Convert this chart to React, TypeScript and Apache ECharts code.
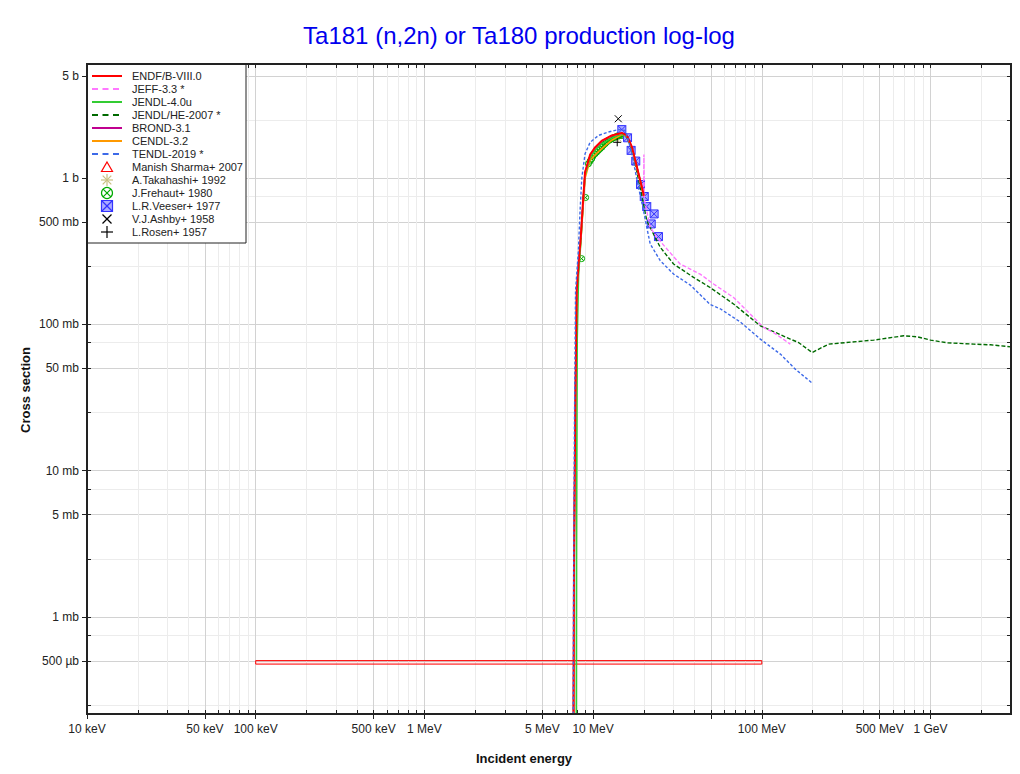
import React, { useEffect, useRef } from "react";
import * as echarts from "echarts";

type Pt = [number, number];

const TITLE = "Ta181 (n,2n) or Ta180 production log-log";
const X_TITLE = "Incident energy";
const Y_TITLE = "Cross section";

// axis ranges (eV, barn)
const E_MIN = 1e4;
const E_MAX = 3e9;
const S_MIN = 2.17e-4;
const S_MAX = 6.04;

// x ticks (eV)
const xMajorTicks = [1e4, 5e4, 1e5, 5e5, 1e6, 5e6, 1e7, 5e7, 1e8, 5e8, 1e9];
const xLabelTicks = [1e4, 5e4, 1e5, 5e5, 1e6, 5e6, 1e7, 1e8, 5e8, 1e9];
const xTickLabels = ["10 keV", "50 keV", "100 keV", "500 keV", "1 MeV", "5 MeV", "10 MeV", "100 MeV", "500 MeV", "1 GeV"];
const xDecades = [1e4, 1e5, 1e6, 1e7, 1e8, 1e9];
const xMinorMultipliers = [2, 3, 4, 6, 7, 8, 9];

// y ticks (barn)
const yMajorTicks = [5, 1, 0.5, 0.1, 0.05, 0.01, 0.005, 0.001, 0.0005];
const yTickLabels = ["5 b", "1 b", "500 mb", "100 mb", "50 mb", "10 mb", "5 mb", "1 mb", "500 µb"];
const yMinorTicks = [2.5, 0.75, 0.25, 0.075, 0.025, 0.0075, 0.0025, 0.00075, 0.00025];

// evaluated data [E (eV), sigma (b)]
const endfB8: Pt[] = [
  [7.6e6, 1e-5], [7.7e6, 2e-3], [7.85e6, 0.03], [8.0e6, 0.17], [8.2e6, 0.26], [8.45e6, 0.394],
  [8.72e6, 0.7], [8.96e6, 1.1], [9.6e6, 1.45], [10.3e6, 1.63], [11.3e6, 1.81], [12.9e6, 1.96],
  [14.8e6, 2.04], [15.85e6, 1.96], [17.0e6, 1.63], [18.2e6, 1.19], [19.45e6, 0.87], [20.0e6, 0.76],
];
const jeff33: Pt[] = [
  [7.6e6, 1e-5], [7.7e6, 2.1e-3], [7.85e6, 0.031], [8.0e6, 0.17], [8.2e6, 0.26], [8.45e6, 0.39],
  [8.72e6, 0.69], [8.96e6, 1.09], [9.6e6, 1.44], [10.3e6, 1.62], [11.3e6, 1.8], [12.9e6, 1.95],
  [14.8e6, 2.03], [15.85e6, 1.95], [17.0e6, 1.62], [18.2e6, 1.18], [19.45e6, 0.86], [19.95e6, 0.77],
  [20.0e6, 1.45], [20.1e6, 0.72], [21.8e6, 0.462], [23.9e6, 0.394], [27.4e6, 0.328], [32.8e6, 0.259],
  [43.1e6, 0.221], [51.8e6, 0.189], [68e6, 0.153], [102.5e6, 0.0954], [117.5e6, 0.088], [147.6e6, 0.0734],
];
const jendl40u: Pt[] = [
  [7.93e6, 1e-5], [7.97e6, 3e-3], [8.05e6, 0.08], [8.2e6, 0.22], [8.45e6, 0.36], [8.72e6, 0.66],
  [8.96e6, 1.05], [9.6e6, 1.38], [10.3e6, 1.56], [11.3e6, 1.73], [12.9e6, 1.88], [14.0e6, 1.97],
  [14.8e6, 2.0], [15.85e6, 1.93], [17.0e6, 1.6], [18.2e6, 1.18], [19.45e6, 0.86], [20.0e6, 0.76],
];
const jendlHe2007: Pt[] = [
  [7.6e6, 1e-5], [7.7e6, 2e-3], [7.85e6, 0.03], [8.0e6, 0.17], [8.2e6, 0.26], [8.45e6, 0.4],
  [8.72e6, 0.7], [8.96e6, 1.1], [9.6e6, 1.42], [10.3e6, 1.6], [11.3e6, 1.78], [12.9e6, 1.93],
  [14.5e6, 2.02], [15.5e6, 1.97], [16.5e6, 1.72], [17.5e6, 1.35], [18.5e6, 1.0], [19.5e6, 0.75],
  [20.8e6, 0.513], [22.8e6, 0.416], [25e6, 0.337], [30e6, 0.259], [39.4e6, 0.21], [49.4e6, 0.179],
  [68e6, 0.138], [98e6, 0.098], [147.6e6, 0.0794], [165e6, 0.0753], [198.6e6, 0.0643], [249e6, 0.0734],
  [292e6, 0.0746], [461e6, 0.0782], [695e6, 0.0837], [834e6, 0.0824], [1000e6, 0.0782], [1257e6, 0.0749],
  [1807e6, 0.0734], [2270e6, 0.0726], [2985e6, 0.0703],
];
const brond31: Pt[] = [
  [7.6e6, 1e-5], [7.7e6, 2.2e-3], [7.85e6, 0.032], [8.0e6, 0.17], [8.45e6, 0.39], [8.96e6, 1.08],
  [9.6e6, 1.43], [10.3e6, 1.62], [11.3e6, 1.8], [12.9e6, 1.95], [14.8e6, 2.03], [15.85e6, 1.95],
  [17.0e6, 1.62], [18.2e6, 1.18], [19.45e6, 0.86], [20.0e6, 0.75],
];
const cendl32: Pt[] = [
  [7.6e6, 1e-5], [7.7e6, 1.8e-3], [7.85e6, 0.028], [8.0e6, 0.16], [8.45e6, 0.37], [8.96e6, 1.0],
  [9.6e6, 1.33], [10.3e6, 1.45], [11.3e6, 1.6], [12.9e6, 1.82], [14.8e6, 1.99], [15.85e6, 1.94],
  [17.0e6, 1.6], [18.2e6, 1.17], [19.45e6, 0.85], [20.0e6, 0.75],
];
const tendl2019: Pt[] = [
  [7.58e6, 1e-5], [7.65e6, 1e-3], [7.75e6, 0.02], [7.87e6, 0.17], [8.18e6, 0.32], [8.37e6, 0.6],
  [8.57e6, 1.0], [8.96e6, 1.47], [9.6e6, 1.76], [10.75e6, 1.96], [12.32e6, 2.07], [14.13e6, 2.15],
  [15.5e6, 2.12], [16.2e6, 1.81], [16.97e6, 1.47], [17.75e6, 1.13], [18.57e6, 0.868], [19.9e6, 0.6],
  [20.8e6, 0.462], [21.8e6, 0.355], [25e6, 0.273], [30e6, 0.221], [37.7e6, 0.186], [49.4e6, 0.137],
  [56.7e6, 0.128], [74.5e6, 0.104], [98e6, 0.0794], [128.8e6, 0.0627], [158e6, 0.0495], [196.8e6, 0.0401],
];

// experimental data
// Manish Sharma+ 2007: [E low, E high, sigma low, sigma high]
const manishSharma2007: [number, number, number, number][] = [[1e5, 1e8, 4.76e-4, 5.03e-4]];
const takahashi1992: Pt[] = [[14.1e6, 1.87]];
const frehaut1980: Pt[] = [
  [8.55e6, 0.282], [9.03e6, 0.738], [9.38e6, 1.255], [9.6e6, 1.31], [9.82e6, 1.36], [10.0e6, 1.42],
  [10.28e6, 1.47], [10.5e6, 1.51], [10.75e6, 1.55], [11.0e6, 1.59], [11.26e6, 1.63], [11.5e6, 1.68],
  [11.78e6, 1.72], [12.0e6, 1.76], [12.32e6, 1.81], [12.6e6, 1.83], [12.91e6, 1.86], [13.2e6, 1.89],
  [13.51e6, 1.91], [13.8e6, 1.93], [14.13e6, 1.96], [14.45e6, 1.97], [14.8e6, 1.96],
];
const veeser1977: Pt[] = [
  [14.8e6, 2.15], [16.0e6, 1.89], [16.8e6, 1.55], [17.9e6, 1.31], [19.1e6, 0.905], [20.1e6, 0.75],
  [20.8e6, 0.64], [23.0e6, 0.57], [22.1e6, 0.487], [24.4e6, 0.399],
];
const ashby1958: Pt[] = [[14.1e6, 2.55]];
const rosen1957: Pt[] = [[13.9e6, 1.76]];

const FONT = "'Liberation Sans', Arial, Helvetica, sans-serif";
const lg = Math.log10;
const toLog = (d: Pt[]) => d.map(([e, s]) => [lg(e), lg(s)]);

const SYM_CIRCLEX = "path://M0,-5A5,5,0,1,1,0,5A5,5,0,1,1,0,-5ZM-3.5,-3.5L3.5,3.5M3.5,-3.5L-3.5,3.5";
const SYM_SQUAREX = "path://M-5,-5L5,-5L5,5L-5,5ZM-5,-5L5,5M5,-5L-5,5";
const SYM_X = "path://M-5,-5L5,5M5,-5L-5,5";
const SYM_PLUS = "path://M0,-5L0,5M-5,0L5,0";
const SYM_AST = "path://M0,-5L0,5M-5,0L5,0M-3.5,-3.5L3.5,3.5M3.5,-3.5L-3.5,3.5";

const GRID = { left: 87, top: 64, right: 9, bottom: 60 };
const W = 1020;
const H = 774;

type LegendItem = { name: string; kind: string; color: string; dash?: boolean; width?: number };
const legendItems: LegendItem[] = [
  { name: "ENDF/B-VIII.0", kind: "line", color: "#ff0000", width: 2 },
  { name: "JEFF-3.3 *", kind: "line", color: "#ff77ff", dash: true, width: 2 },
  { name: "JENDL-4.0u", kind: "line", color: "#33cc33", width: 2 },
  { name: "JENDL/HE-2007 *", kind: "line", color: "#006a00", dash: true, width: 2 },
  { name: "BROND-3.1", kind: "line", color: "#c0008f", width: 2 },
  { name: "CENDL-3.2", kind: "line", color: "#ff9900", width: 2 },
  { name: "TENDL-2019 *", kind: "line", color: "#3d6ae8", dash: true, width: 2 },
  { name: "Manish Sharma+ 2007", kind: "triangle", color: "#ff0000" },
  { name: "A.Takahashi+ 1992", kind: "asterisk", color: "#c8c080" },
  { name: "J.Frehaut+ 1980", kind: "circlex", color: "#00aa00" },
  { name: "L.R.Veeser+ 1977", kind: "squarex", color: "#3333ff" },
  { name: "V.J.Ashby+ 1958", kind: "x", color: "#000000" },
  { name: "L.Rosen+ 1957", kind: "plus", color: "#000000" },
];

function legendGraphics(): any[] {
  const els: any[] = [];
  els.push({
    type: "rect",
    shape: { x: 87, y: 64, width: 159, height: 179 },
    style: { fill: "#ffffff", stroke: "#222222", lineWidth: 1 },
    z: 60,
  });
  const sx = 107;
  legendItems.forEach((it, i) => {
    const y = 76 + 13 * i;
    const st = { stroke: it.color, lineWidth: 1.2, fill: "none" };
    if (it.kind === "line") {
      els.push({
        type: "line",
        shape: { x1: 92, y1: y, x2: 122, y2: y },
        style: { stroke: it.color, lineWidth: it.width || 2, lineDash: it.dash ? [6, 4.5] : null },
        z: 61,
      });
    } else if (it.kind === "triangle") {
      els.push({ type: "polygon", shape: { points: [[sx, y - 5], [sx + 5.5, y + 4.5], [sx - 5.5, y + 4.5]] }, style: st, z: 61 });
    } else if (it.kind === "asterisk") {
      [[0, -6, 0, 6], [-6, 0, 6, 0], [-4.3, -4.3, 4.3, 4.3], [4.3, -4.3, -4.3, 4.3]].forEach((l) =>
        els.push({ type: "line", shape: { x1: sx + l[0], y1: y + l[1], x2: sx + l[2], y2: y + l[3] }, style: st, z: 61 })
      );
    } else if (it.kind === "circlex") {
      els.push({ type: "circle", shape: { cx: sx, cy: y, r: 5.5 }, style: st, z: 61 });
      [[-3.9, -3.9, 3.9, 3.9], [3.9, -3.9, -3.9, 3.9]].forEach((l) =>
        els.push({ type: "line", shape: { x1: sx + l[0], y1: y + l[1], x2: sx + l[2], y2: y + l[3] }, style: st, z: 61 })
      );
    } else if (it.kind === "squarex") {
      els.push({ type: "rect", shape: { x: sx - 5.5, y: y - 5.5, width: 11, height: 11 }, style: { ...st, fill: "#aaaaff" }, z: 61 });
      [[-5.5, -5.5, 5.5, 5.5], [5.5, -5.5, -5.5, 5.5]].forEach((l) =>
        els.push({ type: "line", shape: { x1: sx + l[0], y1: y + l[1], x2: sx + l[2], y2: y + l[3] }, style: st, z: 61 })
      );
    } else if (it.kind === "x") {
      [[-4.5, -4.5, 4.5, 4.5], [4.5, -4.5, -4.5, 4.5]].forEach((l) =>
        els.push({ type: "line", shape: { x1: sx + l[0], y1: y + l[1], x2: sx + l[2], y2: y + l[3] }, style: st, z: 61 })
      );
    } else if (it.kind === "plus") {
      [[0, -6, 0, 6], [-6, 0, 6, 0]].forEach((l) =>
        els.push({ type: "line", shape: { x1: sx + l[0], y1: y + l[1], x2: sx + l[2], y2: y + l[3] }, style: st, z: 61 })
      );
    }
    els.push({
      type: "text",
      x: 132,
      y,
      style: { text: it.name, fontSize: 11, fontFamily: FONT, fill: "#222222", textVerticalAlign: "middle", textAlign: "left" },
      z: 61,
    });
  });
  return els;
}

function buildOption(): any {
  const xMin = lg(E_MIN);
  const xMax = lg(E_MAX);
  const yMin = lg(S_MIN);
  const yMax = lg(S_MAX);

  const xMajorLog = xMajorTicks.map(lg);
  const xLabelLog = xLabelTicks.map(lg);
  const xMinorLog: number[] = [];
  xDecades.forEach((d) => xMinorMultipliers.forEach((m) => {
    const v = lg(d * m);
    if (v <= xMax + 1e-9) xMinorLog.push(v);
  }));
  const xAllLog = [...xMajorLog, ...xMinorLog];

  const yMajorLog = yMajorTicks.map(lg);
  const yMinorLog = yMinorTicks.map(lg).filter((v) => v >= yMin && v <= yMax);
  const yAllLog = [...yMajorLog, ...yMinorLog];

  const find = (arr: number[], labels: string[], v: number) => {
    const i = arr.findIndex((t) => Math.abs(t - v) < 1e-6);
    return i >= 0 ? labels[i] : "";
  };

  const baseX = { type: "value", min: xMin, max: xMax, gridIndex: 0, axisPointer: { show: false } };
  const baseY = { type: "value", min: yMin, max: yMax, gridIndex: 0, axisPointer: { show: false } };
  const tickStyle = { color: "#222222", width: 1 };
  const noLine = { show: false, onZero: false };

  const xAxis = [
    // 0: minor split lines
    {
      ...baseX, position: "bottom",
      axisLine: noLine,
      axisTick: { show: true, length: 0, customValues: xMinorLog, lineStyle: { color: "transparent" } },
      axisLabel: { show: false },
      splitLine: { show: true, lineStyle: { color: "#ececec", width: 1 } },
    },
    // 1: major (labels, outside ticks, darker split lines)
    {
      ...baseX, position: "bottom",
      axisLine: noLine,
      axisTick: { show: true, inside: false, length: 5, customValues: xMajorLog, lineStyle: tickStyle },
      axisLabel: {
        show: true, customValues: xLabelLog, margin: 9, fontSize: 12, fontFamily: FONT, color: "#222222",
        formatter: (v: number) => find(xLabelLog, xTickLabels, v),
      },
      splitLine: { show: true, lineStyle: { color: "#d2d2d2", width: 1 } },
    },
    // 2: inner ticks bottom
    {
      ...baseX, position: "bottom",
      axisLine: noLine,
      axisTick: { show: true, inside: true, length: 4, customValues: xAllLog, lineStyle: tickStyle },
      axisLabel: { show: false },
      splitLine: { show: false },
    },
    // 3: top ticks
    {
      ...baseX, position: "top",
      axisLine: noLine,
      axisTick: { show: true, inside: true, length: 4, customValues: xAllLog, lineStyle: tickStyle },
      axisLabel: { show: false },
      splitLine: { show: false },
    },
  ];

  const yAxis = [
    {
      ...baseY, position: "left",
      axisLine: noLine,
      axisTick: { show: true, length: 0, customValues: yMinorLog, lineStyle: { color: "transparent" } },
      axisLabel: { show: false },
      splitLine: { show: true, lineStyle: { color: "#ececec", width: 1 } },
    },
    {
      ...baseY, position: "left",
      axisLine: noLine,
      axisTick: { show: true, inside: false, length: 5, customValues: yMajorLog, lineStyle: tickStyle },
      axisLabel: {
        show: true, customValues: yMajorLog, margin: 8, fontSize: 12, fontFamily: FONT, color: "#222222",
        formatter: (v: number) => find(yMajorLog, yTickLabels, v),
      },
      splitLine: { show: true, lineStyle: { color: "#d2d2d2", width: 1 } },
    },
    {
      ...baseY, position: "left",
      axisLine: noLine,
      axisTick: { show: true, inside: true, length: 4, customValues: yAllLog, lineStyle: tickStyle },
      axisLabel: { show: false },
      splitLine: { show: false },
    },
    {
      ...baseY, position: "right",
      axisLine: noLine,
      axisTick: { show: true, inside: true, length: 4, customValues: yAllLog, lineStyle: tickStyle },
      axisLabel: { show: false },
      splitLine: { show: false },
    },
  ];

  const line = (name: string, data: Pt[], color: string, width: number, dash: number[] | null) => ({
    name, type: "line", xAxisIndex: 1, yAxisIndex: 1, data: toLog(data),
    symbol: "none", showSymbol: false, clip: true, silent: true,
    lineStyle: { color, width, type: dash ? dash : "solid" },
    itemStyle: { color },
    emphasis: { disabled: true },
  });

  const scatter = (name: string, data: Pt[], symbol: string, size: number, fill: string, stroke: string, bw: number) => ({
    name, type: "scatter", xAxisIndex: 1, yAxisIndex: 1, data: toLog(data),
    symbol, symbolSize: size, clip: true, silent: true,
    itemStyle: { color: fill, borderColor: stroke, borderWidth: bw, opacity: 1 },
    emphasis: { disabled: true },
  });

  const series: any[] = [
    {
      name: "Manish Sharma+ 2007",
      type: "custom",
      xAxisIndex: 1, yAxisIndex: 1,
      clip: true, silent: true,
      dimensions: ["e0", "e1", "s0", "s1"],
      encode: { x: [0, 1], y: [2, 3] },
      data: manishSharma2007.map((b) => [lg(b[0]), lg(b[1]), lg(b[2]), lg(b[3])]),
      renderItem: (_p: any, api: any) => {
        const a = api.coord([api.value(0), api.value(3)]);
        const b = api.coord([api.value(1), api.value(2)]);
        return {
          type: "rect",
          shape: { x: a[0], y: a[1], width: b[0] - a[0], height: b[1] - a[1] },
          style: { fill: "rgba(255,0,0,0.07)", stroke: "#ff0000", lineWidth: 1 },
        };
      },
    },
    line("JENDL/HE-2007 *", jendlHe2007, "#006a00", 1.4, [4, 2]),
    line("BROND-3.1", brond31, "#c0008f", 1.6, null),
    line("CENDL-3.2", cendl32, "#ff9900", 1.6, null),
    line("JENDL-4.0u", jendl40u, "#33cc33", 1.6, null),
    line("JEFF-3.3 *", jeff33, "#ff77ff", 1.4, [4, 2]),
    line("ENDF/B-VIII.0", endfB8, "#ff0000", 2, null),
    line("TENDL-2019 *", tendl2019, "#3d6ae8", 1.4, [3, 2]),
    scatter("A.Takahashi+ 1992", takahashi1992, SYM_AST, 9, "transparent", "#c8c080", 1),
    scatter("J.Frehaut+ 1980", frehaut1980, SYM_CIRCLEX, 6, "transparent", "#00aa00", 1),
    scatter("L.R.Veeser+ 1977", veeser1977, SYM_SQUAREX, 8, "#aaaaff", "#3333ff", 1),
    scatter("V.J.Ashby+ 1958", ashby1958, SYM_X, 7, "transparent", "#000000", 1),
    scatter("L.Rosen+ 1957", rosen1957, SYM_PLUS, 8, "transparent", "#000000", 1),
  ];

  const graphic: any[] = [
    {
      type: "text", x: 519, y: 35,
      style: { text: TITLE, fontSize: 24, fontFamily: FONT, fill: "#0000ee", textAlign: "center", textVerticalAlign: "middle" },
      z: 70,
    },
    {
      type: "text", x: 524, y: 758,
      style: { text: X_TITLE, fontSize: 13, fontWeight: "bold", fontFamily: FONT, fill: "#111111", textAlign: "center", textVerticalAlign: "middle" },
      z: 70,
    },
    {
      type: "text", x: 25, y: 390, rotation: Math.PI / 2,
      style: { text: Y_TITLE, fontSize: 13, fontWeight: "bold", fontFamily: FONT, fill: "#111111", textAlign: "center", textVerticalAlign: "middle" },
      z: 70,
    },
    ...legendGraphics(),
    {
      type: "rect",
      shape: { x: GRID.left, y: GRID.top, width: W - GRID.left - GRID.right, height: H - GRID.top - GRID.bottom },
      style: { fill: "none", stroke: "#222222", lineWidth: 2 },
      z: 80,
      silent: true,
    },
  ];

  return {
    animation: false,
    backgroundColor: "#ffffff",
    grid: { ...GRID, containLabel: false },
    xAxis,
    yAxis,
    series,
    graphic,
    tooltip: { show: false },
  };
}

export default function App() {
  const ref = useRef<HTMLDivElement>(null);
  useEffect(() => {
    if (!ref.current) return;
    const chart = echarts.init(ref.current, undefined, { renderer: "svg" });
    chart.setOption(buildOption());
    return () => chart.dispose();
  }, []);
  return <div ref={ref} style={{ position: "absolute", left: 0, top: 0, width: W, height: H }} />;
}
